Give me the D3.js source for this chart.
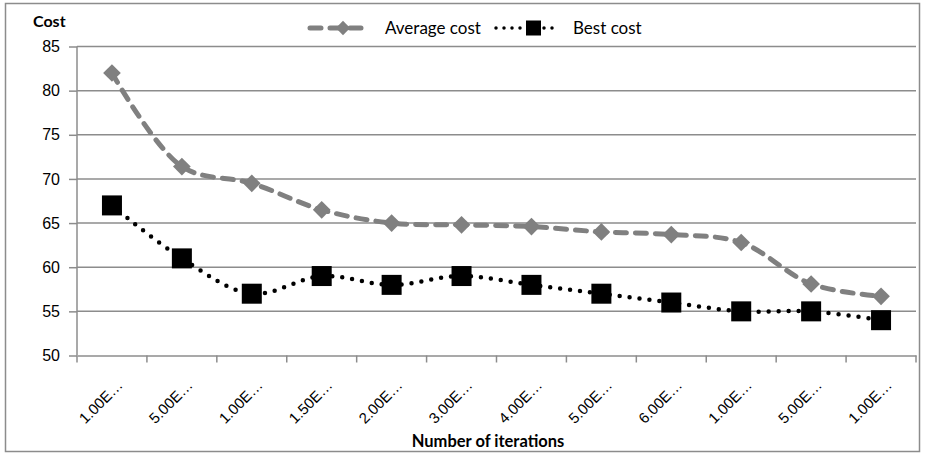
<!DOCTYPE html>
<html>
<head>
<meta charset="utf-8">
<script src="https://cdn.jsdelivr.net/npm/d3@7"></script>
<style>
  body { margin: 0; background: #fff; }
  svg { font-family: Lato, "Open Sans", sans-serif; }
</style>
</head>
<body>
<div id="chart"></div>
<script>
const categories = ["1.00E…", "5.00E…", "1.00E…", "1.50E…", "2.00E…", "3.00E…", "4.00E…", "5.00E…", "6.00E…", "1.00E…", "5.00E…", "1.00E…"];
const averageCost = [82, 71.4, 69.5, 66.5, 65, 64.8, 64.6, 64, 63.7, 62.8, 58.1, 56.7];
const bestCost = [67, 61, 57, 59, 58, 59, 58, 57, 56, 55, 55, 54];
const yTicks = [50, 55, 60, 65, 70, 75, 80, 85];

const W = 925, H = 456;
const margin = {top: 46.5, right: 9, bottom: 100.5, left: 77};
const innerW = W - margin.left - margin.right;
const innerH = H - margin.top - margin.bottom;

const svg = d3.select("#chart").append("svg")
    .attr("width", W).attr("height", H);

// outer border
svg.append("rect").attr("x", 5.5).attr("y", 3.5).attr("width", 914).attr("height", 448)
    .attr("fill", "none").attr("stroke", "#8c8c8c").attr("stroke-width", 1.5);

const g = svg.append("g").attr("transform", `translate(${margin.left},${margin.top})`);

const x = d3.scaleBand().domain(d3.range(categories.length)).range([0, innerW]);
const y = d3.scaleLinear().domain([50, 85]).range([innerH, 0]);
const cx = i => x(i) + x.bandwidth() / 2;

// gridlines
g.append("g").selectAll("line").data(yTicks.slice(1)).join("line")
    .attr("x1", 0).attr("x2", innerW)
    .attr("y1", d => y(d)).attr("y2", d => y(d))
    .attr("stroke", "#8c8c8c").attr("stroke-width", 1.5);

// y axis
const yAxis = g.append("g").call(d3.axisLeft(y).tickValues(yTicks).tickSize(8).tickPadding(6));
yAxis.select(".domain").attr("stroke", "#8c8c8c").attr("stroke-width", 1.5).attr("d", `M0,${innerH}V0`);
yAxis.selectAll(".tick line").attr("stroke", "#8c8c8c").attr("stroke-width", 1.5);
yAxis.selectAll("text").attr("font-size", 16).attr("fill", "#000").attr("dx", -3);

// x axis
const xAxis = g.append("g").attr("transform", `translate(0,${innerH})`)
    .call(d3.axisBottom(x).tickSize(0).tickFormat(i => categories[i]));
xAxis.select(".domain").attr("stroke", "#8c8c8c").attr("stroke-width", 1.5);
xAxis.selectAll(".tick line").remove();
xAxis.append("g").selectAll("line").data(d3.range(categories.length + 1)).join("line")
    .attr("x1", d => d * x.step()).attr("x2", d => d * x.step())
    .attr("y1", 0).attr("y2", 7)
    .attr("stroke", "#8c8c8c").attr("stroke-width", 1.5);
xAxis.selectAll(".tick text")
    .attr("font-size", 15).attr("fill", "#000")
    .attr("text-anchor", "end")
    .attr("y", 0).attr("dy", "0.35em")
    .attr("transform", "translate(8,27) rotate(-45)");

// lines
const line = d3.line().x((d, i) => cx(i)).y(d => y(d)).curve(d3.curveCatmullRom.alpha(0.5));

g.append("path").datum(averageCost).attr("d", line)
    .attr("fill", "none").attr("stroke", "#808080").attr("stroke-width", 5)
    .attr("stroke-dasharray", "11 9").attr("stroke-linecap", "round");

g.append("path").datum(bestCost).attr("d", line)
    .attr("fill", "none").attr("stroke", "#000").attr("stroke-width", 4.5)
    .attr("stroke-dasharray", "0 10").attr("stroke-linecap", "round");

// markers
const diamond = d3.symbol().type(d3.symbolDiamond2).size(200);
g.append("g").selectAll("path").data(averageCost).join("path")
    .attr("d", diamond)
    .attr("transform", (d, i) => `translate(${cx(i)},${y(d)})`)
    .attr("fill", "#808080");

g.append("g").selectAll("rect").data(bestCost).join("rect")
    .attr("x", (d, i) => cx(i) - 10).attr("y", d => y(d) - 10)
    .attr("width", 20).attr("height", 20)
    .attr("fill", "#000");

// axis titles
svg.append("text").attr("x", 33).attr("y", 27).text("Cost")
    .attr("font-size", 16).attr("font-weight", "bold");
svg.append("text").attr("x", 488).attr("y", 447).text("Number of iterations")
    .attr("text-anchor", "middle").attr("font-size", 16.5).attr("font-weight", "bold");

// legend
const leg = svg.append("g").attr("transform", "translate(0,28)");
leg.append("line").attr("x1", 310).attr("x2", 366).attr("y1", 0).attr("y2", 0)
    .attr("stroke", "#808080").attr("stroke-width", 5).attr("stroke-dasharray", "11 9").attr("stroke-linecap", "round");
leg.append("path").attr("d", diamond.size(130)).attr("transform", "translate(343,0)").attr("fill", "#808080");
leg.append("text").attr("x", 385).attr("y", 0).attr("dy", "0.35em").attr("font-size", 17).text("Average cost");
leg.append("line").attr("x1", 496).attr("x2", 558).attr("y1", 0).attr("y2", 0)
    .attr("stroke", "#000").attr("stroke-width", 3.5).attr("stroke-dasharray", "0 8").attr("stroke-linecap", "round");
leg.append("rect").attr("x", 526).attr("y", -7.5).attr("width", 15).attr("height", 15).attr("fill", "#000");
leg.append("text").attr("x", 573).attr("y", 0).attr("dy", "0.35em").attr("font-size", 17).text("Best cost");
</script>
</body>
</html>
